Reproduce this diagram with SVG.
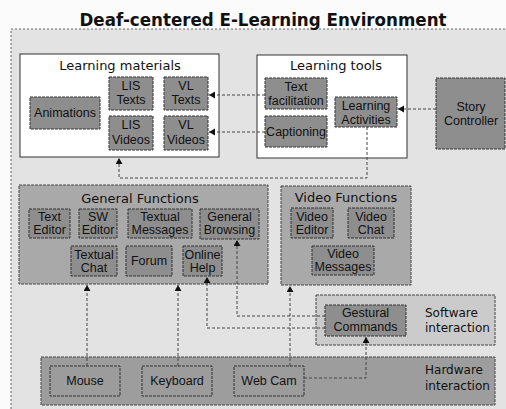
<svg xmlns="http://www.w3.org/2000/svg" width="506" height="409" viewBox="0 0 506 409">
<defs>
<style>
.title{font-family:"DejaVu Sans",Verdana,sans-serif;font-weight:bold;font-size:17px;fill:#111}
.gt{font-family:"DejaVu Sans",Verdana,sans-serif;font-size:13px;fill:#111}
.lt{font-family:"DejaVu Sans",Verdana,sans-serif;font-size:12px;fill:#111}
.nt{font-family:"Liberation Sans",Arial,sans-serif;font-size:12.5px;fill:#111}
.node{fill:#8e8e8e;stroke:#333;stroke-width:1;stroke-dasharray:3,1}
.hwnode{fill:#9c9c9c;stroke:#333;stroke-width:1;stroke-dasharray:3,1}
.white{fill:#ffffff;stroke:#333;stroke-width:1}
.conn{fill:none;stroke:#444;stroke-width:1;stroke-dasharray:3,2}
</style>
<marker id="arr" markerUnits="userSpaceOnUse" markerWidth="8" markerHeight="8" refX="6" refY="3.5" orient="auto">
<path d="M0,0 L6,3.5 L0,7 Z" fill="#111"/>
</marker>
</defs>
<rect x="0" y="0" width="506" height="409" fill="#fbfbfb"/>
<rect x="11" y="29" width="500" height="390" fill="#e3e3e3" stroke="#666" stroke-dasharray="2,2"/>
<text class="title" x="263" y="26" text-anchor="middle" textLength="367" lengthAdjust="spacingAndGlyphs">Deaf-centered E-Learning Environment</text>

<g id="learning-materials">
<rect class="white" x="20" y="54" width="199" height="103"/>
<text class="gt" x="120" y="70" text-anchor="middle">Learning materials</text>
</g>
<g id="animations"><rect class="node" x="30" y="97" width="70" height="32"/><text class="nt" x="65" y="117" text-anchor="middle">Animations</text></g>
<g id="lis-texts"><rect class="node" x="109" y="77" width="44" height="33"/><text class="nt" x="131" y="90" text-anchor="middle">LIS</text><text class="nt" x="131" y="104" text-anchor="middle">Texts</text></g>
<g id="vl-texts"><rect class="node" x="164" y="77" width="44" height="33"/><text class="nt" x="186" y="90" text-anchor="middle">VL</text><text class="nt" x="186" y="104" text-anchor="middle">Texts</text></g>
<g id="lis-videos"><rect class="node" x="109" y="116" width="44" height="34"/><text class="nt" x="131" y="129" text-anchor="middle">LIS</text><text class="nt" x="131" y="144" text-anchor="middle">Videos</text></g>
<g id="vl-videos"><rect class="node" x="164" y="116" width="44" height="34"/><text class="nt" x="186" y="129" text-anchor="middle">VL</text><text class="nt" x="186" y="144" text-anchor="middle">Videos</text></g>

<g id="learning-tools">
<rect class="white" x="257" y="55" width="150" height="103"/>
<text class="gt" x="336" y="70" text-anchor="middle">Learning tools</text>
</g>
<g id="text-facilitation"><rect class="node" x="265" y="78" width="62" height="31"/><text class="nt" x="296" y="91" text-anchor="middle">Text</text><text class="nt" x="296" y="105" text-anchor="middle">facilitation</text></g>
<g id="captioning"><rect class="node" x="265" y="116" width="62" height="31"/><text class="nt" x="296" y="136" text-anchor="middle">Captioning</text></g>
<g id="learning-activities"><rect class="node" x="335" y="97" width="62" height="30"/><text class="nt" x="366" y="110" text-anchor="middle">Learning</text><text class="nt" x="366" y="124" text-anchor="middle">Activities</text></g>
<g id="story-controller"><rect class="node" x="436" y="78" width="69" height="71"/><text class="nt" x="471" y="111" text-anchor="middle">Story</text><text class="nt" x="471" y="125" text-anchor="middle">Controller</text></g>

<g id="general-functions">
<rect x="19" y="185" width="249" height="99" fill="#a9a9a9" stroke="#444" stroke-dasharray="3,1"/>
<text class="gt" x="140" y="203" text-anchor="middle">General Functions</text>
</g>
<g id="text-editor"><rect class="node" x="29" y="209" width="41" height="29"/><text class="nt" x="49.5" y="221" text-anchor="middle">Text</text><text class="nt" x="49.5" y="234" text-anchor="middle">Editor</text></g>
<g id="sw-editor"><rect class="node" x="79" y="209" width="38" height="29"/><text class="nt" x="98" y="221" text-anchor="middle">SW</text><text class="nt" x="98" y="234" text-anchor="middle">Editor</text></g>
<g id="textual-messages"><rect class="node" x="128" y="209" width="64" height="29"/><text class="nt" x="160" y="221" text-anchor="middle">Textual</text><text class="nt" x="160" y="234" text-anchor="middle">Messages</text></g>
<g id="general-browsing"><rect class="node" x="200" y="209" width="59" height="30"/><text class="nt" x="229.5" y="221" text-anchor="middle">General</text><text class="nt" x="229.5" y="234" text-anchor="middle">Browsing</text></g>
<g id="textual-chat"><rect class="node" x="71" y="246" width="46" height="30"/><text class="nt" x="94" y="259" text-anchor="middle">Textual</text><text class="nt" x="94" y="272" text-anchor="middle">Chat</text></g>
<g id="forum"><rect class="node" x="126" y="246" width="46" height="30"/><text class="nt" x="149" y="265" text-anchor="middle">Forum</text></g>
<g id="online-help"><rect class="node" x="183" y="246" width="39" height="30"/><text class="nt" x="202.5" y="259" text-anchor="middle">Online</text><text class="nt" x="202.5" y="272" text-anchor="middle">Help</text></g>

<g id="video-functions">
<rect x="281" y="186" width="130" height="99" fill="#a9a9a9" stroke="#444" stroke-dasharray="3,1"/>
<text class="gt" x="346" y="202" text-anchor="middle">Video Functions</text>
</g>
<g id="video-editor"><rect class="node" x="291" y="208" width="42" height="30"/><text class="nt" x="312" y="221" text-anchor="middle">Video</text><text class="nt" x="312" y="234" text-anchor="middle">Editor</text></g>
<g id="video-chat"><rect class="node" x="348" y="208" width="46" height="30"/><text class="nt" x="371" y="221" text-anchor="middle">Video</text><text class="nt" x="371" y="234" text-anchor="middle">Chat</text></g>
<g id="video-messages"><rect class="node" x="312" y="246" width="62" height="29"/><text class="nt" x="343" y="258" text-anchor="middle">Video</text><text class="nt" x="343" y="271" text-anchor="middle">Messages</text></g>

<g id="software-interaction">
<rect x="316" y="295" width="179" height="50" fill="#cbcbcb" stroke="#444" stroke-dasharray="3,1"/>
<text class="lt" x="425" y="317">Software</text>
<text class="lt" x="425" y="332">interaction</text>
</g>
<g id="gestural-commands"><rect class="node" x="325" y="305" width="81" height="31"/><text class="nt" x="365.5" y="317" text-anchor="middle">Gestural</text><text class="nt" x="365.5" y="331" text-anchor="middle">Commands</text></g>

<g id="hardware-interaction">
<rect x="41" y="357" width="454" height="48" fill="#9d9d9d" stroke="#444" stroke-dasharray="3,1"/>
<text class="lt" x="425" y="374">Hardware</text>
<text class="lt" x="425" y="390">interaction</text>
</g>
<g id="mouse"><rect class="hwnode" x="50" y="366" width="70" height="30"/><text class="nt" x="85" y="385" text-anchor="middle">Mouse</text></g>
<g id="keyboard"><rect class="hwnode" x="142" y="366" width="70" height="30"/><text class="nt" x="177" y="385" text-anchor="middle">Keyboard</text></g>
<g id="web-cam"><rect class="hwnode" x="234" y="366" width="70" height="30"/><text class="nt" x="269" y="385" text-anchor="middle">Web Cam</text></g>

<g id="connectors">
<path class="conn" d="M265,95 H209" marker-end="url(#arr)"/>
<path class="conn" d="M265,132 H209" marker-end="url(#arr)"/>
<path class="conn" d="M436,109 H398" marker-end="url(#arr)"/>
<path class="conn" d="M367,127 V178 H119 V158" marker-end="url(#arr)"/>
<path class="conn" d="M87,366 V285" marker-end="url(#arr)"/>
<path class="conn" d="M178,366 V285" marker-end="url(#arr)"/>
<path class="conn" d="M290,366 V286" marker-end="url(#arr)"/>
<path class="conn" d="M304,378 H366 V337" marker-end="url(#arr)"/>
<path class="conn" d="M325,316 H237 V240" marker-end="url(#arr)"/>
<path class="conn" d="M325,328 H207 V277" marker-end="url(#arr)"/>
</g>
</svg>
